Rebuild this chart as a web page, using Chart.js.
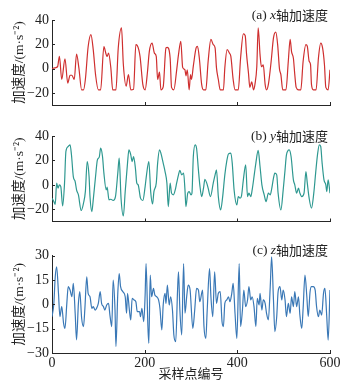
<!DOCTYPE html>
<html><head><meta charset="utf-8">
<script src="https://cdn.jsdelivr.net/npm/chart.js@4/dist/chart.umd.min.js"></script>
<style>
html,body{margin:0;padding:0;background:#fff;}
#wrap{position:relative;width:348px;height:384px;overflow:hidden;background:#fff;}
.p{position:absolute;left:0;width:348px;}
canvas{display:block;}
</style></head><body>
<div id="wrap">
<div class="p" style="top:0;height:120px"><canvas id="c1" width="348" height="120"></canvas></div>
<div class="p" style="top:120px;height:115px"><canvas id="c2" width="348" height="115"></canvas></div>
<div class="p" style="top:235px;height:149px"><canvas id="c3" width="348" height="149"></canvas></div>
</div>
<script>
// ---- data ----
const xTickValues = [0, 200, 400, 600];
const yTicksXY = [-20, 0, 20, 40];
const yTicksZ = [-30, -15, 0, 15, 30];

const xAxisSamples = [0,6,12,16,21,28,34,39,43,48,53,58,64,68,72,78,84,89,94,100,105,112,117,119,122,127,131,138,143,150,154,160,165,170,176,181,184,190,196,201,206,210,216,221,225,228,232,235,240,246,249,255,258,263,269,273,278,282,287,289,292,296,299,301,305,311,314,318,323,327,332,337,343,348,352,355,359,363,370,373,378,383,386,391,395,402,407,413,417,420,424,427,431,435,438,442,445,449,452,456,460,463,467,473,478,483,487,491,494,498,505,510,514,517,521,524,527,532,537,542,548,551,555,558,560,564,570,575,580,584,588,591,596,600];
const xAxisAccel = [0,0.6,1.5,10,-9,8,-12,-5.5,-5.5,-9,12,0.6,-17.5,-17.5,-9,18,28,15.6,-5,-17.5,-17.5,18,11.5,10,12.7,0.6,-17.5,-17.5,17,33.5,3.3,-14.5,-5,-17.5,-17,19.7,19,10,-13,-17.5,-3,14,21,12.7,10,-9,-3,-17.5,-15,17,17.5,8.5,-15.5,-17.5,-1.5,11.5,22.5,1,-1,-6,-1,-17.5,-5,-9,2,17,18.4,8.5,-13,-17.5,-17.5,6,24,19.7,17,0.6,-9,-17.5,-17.5,0.6,15.6,12.7,10,-9,-17.5,-17.5,8.5,28.5,27,11.5,-3.5,-15.5,-11,-17.5,-13,1.5,33.5,11.5,1.5,3,-13,-17.5,-13,6,25.3,30,19.7,-0.5,-5,-17.5,-17.5,6,24,14,8.5,-5,-15.5,-17.5,-17.5,6,19.7,18.4,6,3.3,-13,-17.5,-17.5,8.5,21,17,3.3,-15.5,-17.5,-1];

const yAxisSamples = [0,4,7,10,13,16,19,23,27,30,35,39,42,46,50,53,57,63,68,72,76,80,82,86,89,94,98,102,105,109,112,117,119,123,127,132,137,142,145,149,154,158,163,166,170,173,176,180,183,186,191,196,201,204,209,213,217,220,225,228,232,235,240,244,248,251,255,258,262,266,269,273,276,280,284,287,289,293,296,300,302,305,309,312,316,319,323,327,330,334,337,342,348,352,355,359,364,368,373,377,381,386,389,393,399,402,406,409,413,418,422,425,429,432,437,440,445,449,453,458,462,467,471,474,478,481,485,488,494,499,503,506,512,516,521,524,528,532,535,539,544,548,551,555,560,565,569,573,577,580,583,587,591,593,596,600];
const yAxisAccel = [-10.9,-13.7,-16,1.4,-2.7,0,-1.4,-17.2,1,27.3,31.4,32.8,24.6,6.8,2.7,-4.1,-8.2,-21,-15,-5.5,19.1,6.8,-9.6,-21.9,-12.3,6.8,20.5,22.7,30,23.2,9.6,-4.1,-1.9,-12.3,-11.8,-12.8,-9.6,9.6,21.9,-10.9,-25.4,-5.5,17.8,28.7,24.6,19.1,23.2,13.7,1.4,0,-10.9,-12.8,-1.4,8.2,19.1,-5.5,-15.6,-5.5,1.4,17.8,28.7,26,17.8,10.9,1.4,-17.8,1.4,-6.8,-8.2,-4.1,1.4,8.2,11.8,8.2,9.6,-4.1,-17.8,-6.8,-5.5,-8.2,-7,23.2,32.8,30,12.3,0,-9.6,-2.7,4.6,1.4,-2.7,-9.6,1.4,8.2,12.3,-9.6,-20.5,-10.9,8.2,19.1,25.4,26,17.8,-4.1,-16.4,-9.6,-10.9,-9,4.1,16.4,-9.6,-6.8,-9.6,-4.1,9.6,17.8,28.2,15,0,-8.2,-13.7,-6.8,-8.2,-3.6,5.5,9.6,8.2,-6.8,-20.5,-4.1,12.3,24.6,28.7,23.2,4.1,0,-6.8,-2.7,-6.8,-9.6,-6.8,10.9,1.4,-10.9,-19.1,-6.8,9.6,24.6,32.8,31.4,17.8,4.1,0,-5.5,4.1,-6.8];

const zAxisSamples = [0,4,7,10,14,17,21,25,28,32,35,39,43,46,50,53,57,60,64,68,71,75,78,82,86,89,93,96,100,104,107,111,114,118,122,125,129,132,136,138,142,145,148,153,158,161,163,167,170,173,177,181,184,189,191,194,198,201,203,207,209,212,215,219,222,226,230,233,237,240,244,246,249,253,256,260,263,267,271,273,276,280,284,287,291,294,298,304,308,312,316,319,325,328,332,335,340,343,347,351,355,359,363,367,370,373,377,381,384,388,391,395,399,404,407,411,414,418,422,425,429,432,436,440,443,447,449,453,456,460,463,467,471,474,478,481,485,488,492,496,499,503,506,510,514,517,521,524,528,532,535,539,542,546,550,553,557,560,564,568,571,575,578,582,586,589,593,596,600];
const zAxisAccel = [-7.6,0.6,17,23.2,6.8,-7.6,-1.4,-11.7,-14.8,0.6,10.9,8.8,4.7,12.9,-5.5,-21.9,0.6,7.8,-8.6,-13.7,-2.5,17,6.8,4.7,-2.5,-1.4,-3.5,-2.5,0.6,7.8,0.6,-1.4,-3.5,-0.4,0.6,-6.6,-13.7,15,-3.5,-26,6.8,19,10.9,7.8,4.7,-5.5,6.8,-3.5,-9.6,3.7,2.7,1.6,-4.5,-4.5,-7.6,-2.5,-10.7,5.7,25.2,-13.7,-24,18,4.7,9.8,5.7,4.7,2.7,-2.5,-15.8,-0.4,6.8,0.6,11.9,-0.4,4.7,-3.5,-18.9,-23,8.8,20.1,-3.5,-18.9,25.2,-5.5,5.7,11.9,9,-14.8,-3.5,9.8,8.8,1.6,8.8,-13.7,-21,-3.5,22.1,4.7,-7.6,20.1,0.6,6.8,7.8,-10.7,-13.7,0.6,2.7,4.7,1.6,6.8,12.9,-5.5,-21,25.2,-13.7,-3.5,8.8,-1.4,2.7,10.9,2.7,4.7,-1.4,-13.7,3.7,-0.4,6.8,-3.5,2.7,0.6,-5.5,-9.6,10.9,29.3,2.7,-16.8,-7.6,7.8,10.9,2.7,8.8,2.7,-7.6,0.6,-5.5,4.7,-1.4,7.8,-1.4,4.7,-6.6,-14.8,-2.5,18,4.7,-7.6,7.8,10.9,10.9,8.8,-1.4,-7.6,-3.5,-6.6,6.8,9.8,-7.6,-22,8.8];

// ---- drawing ----
const SERIF = "'Liberation Serif', 'Times New Roman', serif";
const MIXED = "'Liberation Serif', 'Noto Sans CJK SC', serif";
const AX = '#262626';

const marksPlugin = {
  id: 'marks',
  afterDraw(chart, args, opts) {
    const ctx = chart.ctx;
    const {left, bottom} = chart.chartArea;
    const xs = chart.scales.x, ys = chart.scales.y;
    ctx.save();
    ctx.strokeStyle = AX; ctx.lineWidth = 1;
    ctx.beginPath();
    xs.ticks.forEach(t => {
      const px = Math.round(xs.getPixelForValue(t.value)) + 0.5;
      ctx.moveTo(px, bottom); ctx.lineTo(px, bottom - 3);
    });
    ys.ticks.forEach(t => {
      const py = Math.round(ys.getPixelForValue(t.value)) + 0.5;
      ctx.moveTo(left, py); ctx.lineTo(left + 3, py);
    });
    ctx.stroke();
    // panel caption, e.g. "(a) x轴加速度"
    const parts = [
      {t: '(' + opts.letter + ') ', f: "13.5px " + SERIF},
      {t: opts.axis, f: "italic 13.5px " + SERIF},
      {t: '轴加速度', f: "13px 'Noto Sans CJK SC', sans-serif"}
    ];
    let total = 0;
    parts.forEach(p => { ctx.font = p.f; p.w = ctx.measureText(p.t).width; total += p.w; });
    let x = opts.right - total;
    ctx.fillStyle = '#222';
    ctx.textBaseline = 'middle';
    parts.forEach(p => { ctx.font = p.f; ctx.fillText(p.t, x, opts.y); x += p.w; });
    ctx.restore();
  }
};

function makeChart(id, samples, values, color, yMin, yMax, yTicks, showX, padTop, xAxisH, letter, axis, capY) {
  const pts = samples.map((s, i) => ({x: s, y: values[i]}));
  const tickFont = {family: SERIF, size: 14};
  return new Chart(document.getElementById(id), {
    type: 'line',
    data: {datasets: [{data: pts, borderColor: color, borderWidth: 1.2, pointRadius: 0,
                       cubicInterpolationMode: 'monotone', fill: false}]},
    plugins: [marksPlugin],
    options: {
      responsive: false, animation: false, devicePixelRatio: 1,
      layout: {padding: {left: 0, right: 18, top: padTop, bottom: 0}},
      plugins: {legend: {display: false}, tooltip: {enabled: false},
        marks: {letter: letter, axis: axis, right: 328, y: capY}},
      scales: {
        x: {
          type: 'linear', min: 0, max: 600,
          afterBuildTicks: s => { s.ticks = xTickValues.map(v => ({value: v})); },
          afterFit: s => { s.height = xAxisH; },
          ticks: {display: showX, padding: 2, font: tickFont, color: '#222', maxRotation: 0, autoSkip: false},
          grid: {display: true, drawOnChartArea: false, drawTicks: false, color: 'rgba(0,0,0,0)'},
          border: {display: true, color: AX, width: 1},
          title: {display: showX, text: '采样点编号', color: '#222',
                  font: {family: "'Noto Sans CJK SC', sans-serif", size: 13}, padding: {top: 0, bottom: 3}}
        },
        y: {
          min: yMin, max: yMax,
          afterBuildTicks: s => { s.ticks = yTicks.map(v => ({value: v})); },
          afterFit: s => { s.width = 52; },
          ticks: {padding: 3, font: tickFont, color: '#222', callback: v => String(v).replace('-', '\u2212')},
          grid: {display: true, drawOnChartArea: false, drawTicks: false, color: 'rgba(0,0,0,0)'},
          border: {display: true, color: AX, width: 1},
          title: {display: true, text: '加速度/(m·s⁻²)', color: '#222',
                  font: {family: MIXED, size: 13.5}, padding: {top: 11, bottom: 0}}
        }
      }
    }
  });
}

makeChart('c1', xAxisSamples, xAxisAccel, '#cf2f2f', -30, 40, yTicksXY, false, 20, 15, 'a', 'x', 15);
makeChart('c2', yAxisSamples, yAxisAccel, '#2e9890', -30, 40, yTicksXY, false, 16, 13.5, 'b', 'y', 16);
makeChart('c3', zAxisSamples, zAxisAccel, '#3a78b6', -30, 30, yTicksZ, true, 20.7, 31, 'c', 'z', 15);
</script>
</body></html>
